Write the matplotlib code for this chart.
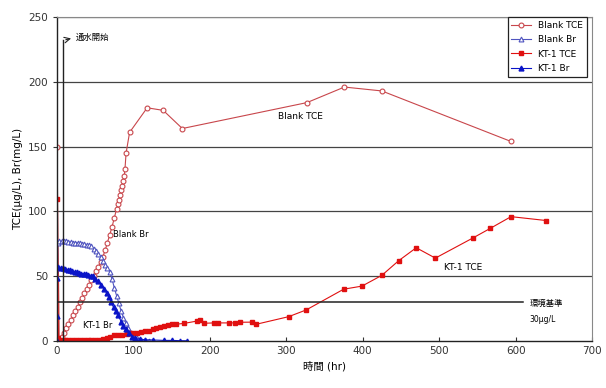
import matplotlib
matplotlib.use('Agg')
import matplotlib.pyplot as plt

plt.rcParams['font.family'] = ['DejaVu Sans', 'Noto Sans CJK JP']

## __DATA__________________________
# Blank TCE (ug/L)
blank_tce_h = [0, 3, 6, 9, 12, 15, 18, 21, 24, 27, 30, 33, 36, 39, 42, 45, 48, 51, 54, 57,
               60, 63, 66, 69, 72, 75, 78, 80, 81, 82.6, 84.3, 85, 86.5, 88, 89, 90.4, 95,
               118, 139, 164, 327, 376, 425, 594]
blank_tce_v = [150, 0, 3, 6, 10, 13, 16, 20, 23, 26, 30, 33, 37, 40, 43, 47, 50, 54, 57, 61,
               65, 70, 76, 82, 88, 95, 102, 106, 109, 112.6, 116.5, 119.6, 123.5, 127, 133, 145, 161,
               180, 178, 164, 184, 196, 193, 154]

# Blank Br (mg/L)
blank_br_h = [0, 1, 3, 6, 9, 12, 15, 18, 21, 24, 27, 30, 33, 36, 39, 42, 45, 48, 51, 54, 57,
              60, 63, 66, 69, 72, 75, 78, 81, 84, 87, 90, 93, 96, 100, 105, 110, 115, 120]
blank_br_v = [2, 76, 77, 77, 77, 77, 76.5, 76.5, 76, 76, 76, 75.5, 75, 75, 74.5, 74, 73, 71, 69.5, 67.5, 65,
              62, 59, 56, 53.5, 48, 41, 35, 29, 23, 18, 14, 10, 7, 4, 2, 1, 0.5, 0]

# KT-1 TCE (ug/L)
kt1_tce_h = [0, 2, 5, 10, 15, 20, 25, 30, 35, 40, 45, 50, 55, 60, 65, 70, 75, 80, 85, 91, 95,
             100, 105, 110, 115, 120, 125, 130, 135, 140, 145, 150, 156, 166, 183, 187, 192,
             205, 211, 225, 233, 240, 255, 261, 303, 326, 375, 399, 425, 447, 470, 495, 544,
             567, 594, 640]
kt1_tce_v = [110, 2, 1, 1, 1, 1, 1, 1, 1, 1, 1, 1, 1, 1.5, 2, 3, 4.5, 5, 5, 5.4, 6,
             6, 6.5, 7, 7.5, 8, 9, 10, 11, 12, 12.5, 13, 13, 13.6, 15.4, 16, 13.7,
             14, 14, 14, 14, 14.5, 14.6, 13, 18.8, 24, 40, 42.4, 50.7, 62, 72, 64, 79.5,
             87, 96, 93]

# KT-1 Br (mg/L)
kt1_br_h = [0, 0, 0, 2, 5, 8, 11, 14, 17, 20, 23, 26, 29, 32, 35, 38, 41, 44, 47, 50, 54, 58,
            62, 65, 68, 71, 74, 77, 80, 84, 87, 90, 94, 98, 102, 108, 115, 126, 140, 150, 161, 170]
kt1_br_v = [0, 19, 49, 57, 56.5, 56, 55.5, 55, 54.5, 54, 53.5, 53, 52.5, 52, 52, 51.5, 51, 50.5, 50, 48, 46, 43,
            40, 37, 34, 30, 26, 23, 20, 15, 12, 9, 6, 3.5, 2, 1.5, 1, 0.8, 0.5, 0.5, 0.3, 0.2]

x_ticks = [0, 100, 200, 300, 400, 500, 600, 700]
y_ticks = [0, 50, 100, 150, 200, 250]
standard = 30   # 環境基準 30ug/L

## __PLOT__________________________
fig = plt.figure(figsize=(6.06, 3.88), dpi=100)
ax = fig.add_axes([0.094, 0.121, 0.883, 0.835])

for yv in [50, 100, 150, 200, 250]:
	ax.axhline(yv, color='#444444', lw=0.9, zorder=0)

ax.plot(blank_tce_h, blank_tce_v, '-o', color='#C8464B', lw=0.8, ms=3.5, mfc='white', mew=0.8, label='Blank TCE')
ax.plot(blank_br_h, blank_br_v, '-^', color='#5055C0', lw=0.8, ms=3.5, mfc='white', mew=0.8, label='Blank Br')
ax.plot(kt1_tce_h, kt1_tce_v, '-s', color='#E01010', lw=0.8, ms=3.5, label='KT-1 TCE')
ax.plot(kt1_br_h, kt1_br_v, '-^', color='#0A14C8', lw=0.8, ms=3.5, label='KT-1 Br')

# 環境基準
ax.plot([0, 610], [standard, standard], color='#222222', lw=1.1)
ax.text(618, 29, '環境基準', fontsize=6, va='center')
ax.text(618, 17, '30µg/L', fontsize=5.5, va='center')

# 通水開始
ax.plot([8, 8], [0, 232], color='#222222', lw=1.0)
ax.annotate('', xy=(22, 234), xytext=(8, 232),
            arrowprops=dict(arrowstyle='->', lw=0.8, color='#222222'))
ax.text(24, 234, '通水開始', fontsize=6, va='center')

ax.text(318, 173, 'Blank TCE', fontsize=6.5, ha='center', va='center')
ax.text(531, 57, 'KT-1 TCE', fontsize=6.5, ha='center', va='center')
ax.text(73, 82, 'Blank Br', fontsize=6, va='center')
ax.text(34, 12, 'KT-1 Br', fontsize=6, va='center')

## __PLOT SETTING__________________________
ax.set_xlim(0, 700)
ax.set_ylim(0, 250)
ax.set_xticks(x_ticks)
ax.set_yticks(y_ticks)
ax.tick_params(axis='x', direction='in', length=3, labelsize=7.5, colors='#333333')
ax.tick_params(axis='y', direction='out', length=3, labelsize=7.5, colors='#333333')
for s in ['left', 'bottom']:
	ax.spines[s].set_color('#222222')
	ax.spines[s].set_linewidth(1.0)
for s in ['top', 'right']:
	ax.spines[s].set_color('#888888')
	ax.spines[s].set_linewidth(0.8)
ax.set_xlabel('時間 (hr)', fontsize=7.5)
ax.set_ylabel('TCE(µg/L), Br(mg/L)', fontsize=7.5)

leg = ax.legend(loc='upper right', bbox_to_anchor=(0.99, 1.0), borderaxespad=0,
                fancybox=False, edgecolor='#222222', fontsize=6.5, framealpha=1,
                handlelength=2.2, labelspacing=0.6)
leg.get_frame().set_linewidth(0.9)

fig.savefig('out.png', dpi=100)
